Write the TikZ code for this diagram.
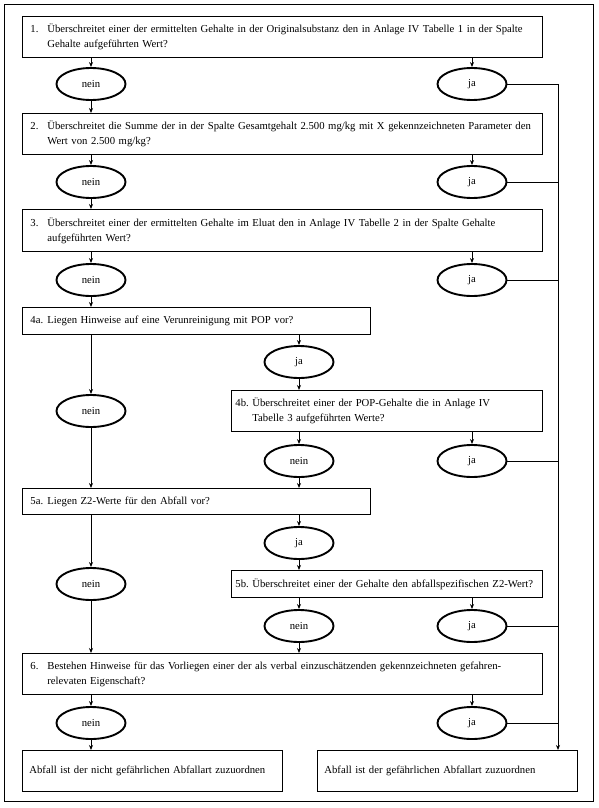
\documentclass[tikz,border=0pt]{standalone}
\usepackage{fontspec}
\setmainfont{Liberation Serif}
\usetikzlibrary{shapes.geometric,arrows.meta}

% number in front of a question, lines after the first hang under the text
\newcommand{\frage}[4][17pt]{\makebox[#1][l]{#2}\mbox{#3}\\\hspace*{#1}\mbox{#4}}
\newcommand{\fragekurz}[3][17pt]{\makebox[#1][l]{#2}\mbox{#3}}

\tikzset{
  box/.style={draw, line width=0.8pt, anchor=north west, align=left,
    inner xsep=8pt, inner ysep=3pt, font=\fontsize{10.7}{15}\selectfont},
  antwort/.style={shape=ellipse, draw, line width=1.9pt, minimum width=69pt,
    minimum height=32pt, inner sep=0pt, font=\fontsize{10.7}{13}\selectfont},
  pfeil/.style={->, line width=0.8pt},
  >={Stealth[length=5pt,width=4pt]}
}

\begin{document}
\begin{tikzpicture}[x=1pt,y=-1pt]
        \useasboundingbox (0,0) rectangle (598,808);
        \draw[line width=1pt] (4,5) rectangle (593,801);

        % questions
        \node[box, text width=504pt, minimum height=41pt] (f1) at (22,16)
            {\frage{1.}{Überschreitet einer der ermittelten Gehalte in der Originalsubstanz den in Anlage IV Tabelle 1 in der Spalte}{Gehalte aufgeführten Wert?}};
        \node[box, text width=504pt, minimum height=41pt] (f2) at (22,113)
            {\frage{2.}{Überschreitet die Summe der in der Spalte Gesamtgehalt 2.500 mg/kg mit X gekennzeichneten Parameter den}{Wert von 2.500 mg/kg?}};
        \node[box, text width=504pt, minimum height=42pt] (f3) at (22,209)
            {\frage{3.}{Überschreitet einer der ermittelten Gehalte im Eluat den in Anlage IV Tabelle 2 in der Spalte Gehalte}{aufgeführten Wert?}};
        \node[box, text width=332pt, minimum height=27pt] (f4a) at (22,307)
            {\fragekurz{4a.}{Liegen Hinweise auf eine Verunreinigung mit POP vor?}};
        \node[box, inner xsep=4pt, text width=303pt, minimum height=41pt] (f4b) at (231,390)
            {\frage{4b.}{Überschreitet einer der POP-Gehalte die in Anlage IV}{Tabelle 3 aufgeführten Werte?}};
        \node[box, text width=332pt, minimum height=26pt] (f5a) at (22,488)
            {\fragekurz{5a.}{Liegen Z2-Werte für den Abfall vor?}};
        \node[box, inner xsep=4pt, text width=303pt, minimum height=27pt] (f5b) at (231,570)
            {\fragekurz{5b.}{Überschreitet einer der Gehalte den abfallspezifischen Z2-Wert?}};
        \node[box, text width=504pt, minimum height=41pt] (f6) at (22,653)
            {\frage{6.}{Bestehen Hinweise für das Vorliegen einer der als verbal einzuschätzenden gekennzeichneten gefahren-}{relevaten Eigenschaft?}};

        % results
        \node[box, inner xsep=7pt, text width=246pt, minimum height=41pt] (e1) at (22,750)
            {Abfall ist der nicht gefährlichen Abfallart zuzuordnen};
        \node[box, inner xsep=7pt, text width=246pt, minimum height=41pt] (e2) at (317,750)
            {Abfall ist der gefährlichen Abfallart zuzuordnen};

        % answers
        \node[antwort] (n1) at (91,84) {nein};
        \node[antwort] (j1) at (472,84) {ja};
        \node[antwort] (n2) at (91,182) {nein};
        \node[antwort] (j2) at (472,182) {ja};
        \node[antwort] (n3) at (91,280) {nein};
        \node[antwort] (j3) at (472,280) {ja};
        \node[antwort] (j4a) at (299,362) {ja};
        \node[antwort] (n4a) at (91,411) {nein};
        \node[antwort] (n4b) at (299,461) {nein};
        \node[antwort] (j4b) at (472,461) {ja};
        \node[antwort] (j5a) at (299,543) {ja};
        \node[antwort] (n5a) at (91,584) {nein};
        \node[antwort] (n5b) at (299,626) {nein};
        \node[antwort] (j5b) at (472,626) {ja};
        \node[antwort] (n6) at (91,723) {nein};
        \node[antwort] (j6) at (472,723) {ja};

        \coordinate (rail) at (558,84);

        % question to answer
        \path[pfeil] (f1.south -| n1) edge (n1);
        \path[pfeil] (f1.south -| j1) edge (j1);
        \path[pfeil] (f2.south -| n2) edge (n2);
        \path[pfeil] (f2.south -| j2) edge (j2);
        \path[pfeil] (f3.south -| n3) edge (n3);
        \path[pfeil] (f3.south -| j3) edge (j3);
        \path[pfeil] (f4a.south -| j4a) edge (j4a);
        \path[pfeil] (f4a.south -| n4a) edge (n4a);
        \path[pfeil] (f4b.south -| n4b) edge (n4b);
        \path[pfeil] (f4b.south -| j4b) edge (j4b);
        \path[pfeil] (f5a.south -| j5a) edge (j5a);
        \path[pfeil] (f5a.south -| n5a) edge (n5a);
        \path[pfeil] (f5b.south -| n5b) edge (n5b);
        \path[pfeil] (f5b.south -| j5b) edge (j5b);
        \path[pfeil] (f6.south -| n6) edge (n6);
        \path[pfeil] (f6.south -| j6) edge (j6);

        % answer to next question
        \path[pfeil] (n1) edge (n1 |- f2.north);
        \path[pfeil] (n2) edge (n2 |- f3.north);
        \path[pfeil] (n3) edge (n3 |- f4a.north);
        \path[pfeil] (j4a) edge (j4a |- f4b.north);
        \path[pfeil] (n4a) edge (n4a |- f5a.north);
        \path[pfeil] (n4b) edge (n4b |- f5a.north);
        \path[pfeil] (j5a) edge (j5a |- f5b.north);
        \path[pfeil] (n5a) edge (n5a |- f6.north);
        \path[pfeil] (n5b) edge (n5b |- f6.north);
        \path[pfeil] (n6) edge (n6 |- e1.north);

        % every ja leads to the hazardous result
        \draw[line width=0.8pt] (j1) -- (rail);
        \draw[line width=0.8pt] (j2) -- (j2 -| rail);
        \draw[line width=0.8pt] (j3) -- (j3 -| rail);
        \draw[line width=0.8pt] (j4b) -- (j4b -| rail);
        \draw[line width=0.8pt] (j5b) -- (j5b -| rail);
        \draw[line width=0.8pt] (j6) -- (j6 -| rail);
        \draw[pfeil] (rail) -- (rail |- e2.north);
\end{tikzpicture}
\end{document}
